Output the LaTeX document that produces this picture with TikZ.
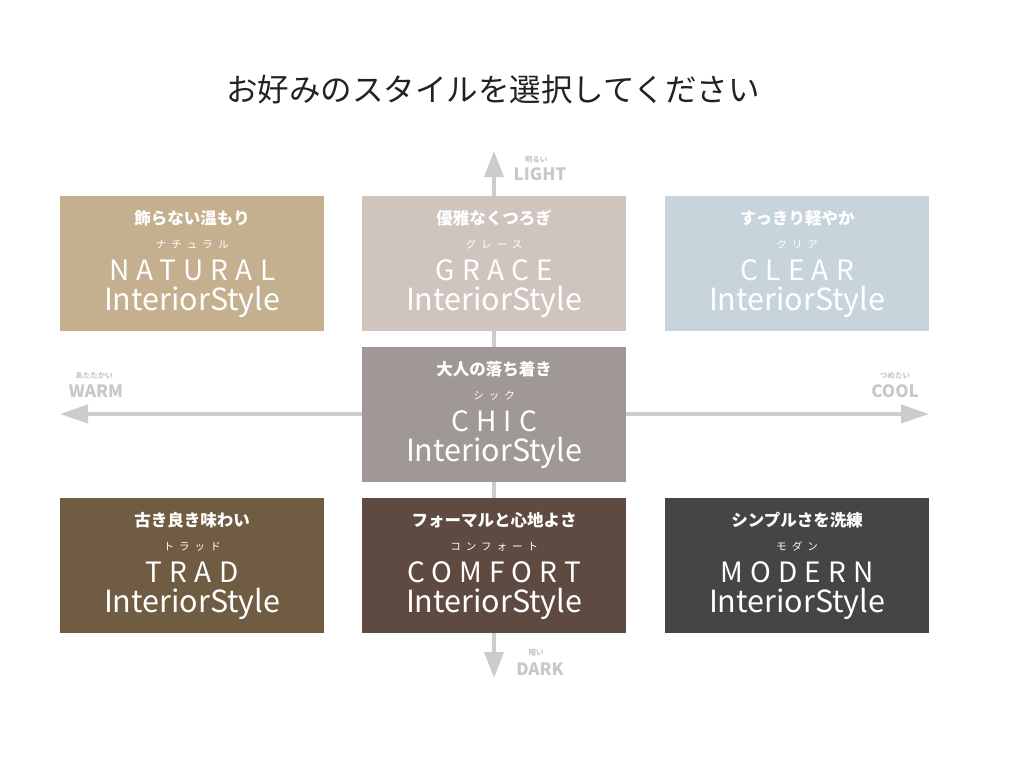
\documentclass[tikz,border=0pt]{standalone}
\usepackage{fontspec}
\setmainfont{Noto Sans CJK JP}
\newfontfamily\enfont[LetterSpace=26]{Noto Sans CJK JP}
\newfontfamily\kanafont[LetterSpace=48]{Noto Sans CJK JP}
\usetikzlibrary{calc,arrows.meta}
\definecolor{cnatural}{RGB}{196,176,142}
\definecolor{cgrace}{RGB}{208,196,191}
\definecolor{cclear}{RGB}{200,212,220}
\definecolor{cchic}{RGB}{160,152,148}
\definecolor{ctrad}{RGB}{111,92,66}
\definecolor{ccomfort}{RGB}{94,74,64}
\definecolor{cmodern}{RGB}{68,69,71}
\definecolor{caxis}{RGB}{204,204,204}
\definecolor{clabel}{RGB}{200,200,200}
\definecolor{ctitle}{RGB}{34,34,34}
\newcommand\stylebox[7]{%
  \node[sbox=#4] (#1) at (#2,#3) {};
  \node[jp] (#1-jp) at ($(#1.north)+(0,28)$) {#5};
  \node[kana] (#1-kana) at ($(#1.north)+(0,52)$) {#6};
  \node[en] (#1-en) at ($(#1.north)+(0,84)$) {#7};
  \node[isty] (#1-is) at ($(#1.north)+(0,114)$) {InteriorStyle};
}
\begin{document}
\begin{tikzpicture}[x=1pt,y=-1pt,
  sbox/.style={fill=#1, draw=none, minimum width=264pt, minimum height=135pt, inner sep=0pt, anchor=north west},
  jp/.style={anchor=base, inner sep=0pt, text=white, font=\bfseries\fontsize{16.5}{18}\selectfont},
  kana/.style={anchor=base, inner sep=0pt, text=white, font=\kanafont\fontsize{10.5}{12}\selectfont},
  en/.style={anchor=base, inner sep=0pt, text=white, font=\enfont\fontsize{28}{30}\selectfont},
  isty/.style={anchor=base, inner sep=0pt, text=white, font=\fontsize{30.5}{32}\selectfont},
  axis/.style={draw=caxis, line width=4pt},
  biglabel/.style={anchor=base, inner sep=0pt, text=clabel, font=\bfseries\fontsize{17}{19}\selectfont},
  smalllabel/.style={anchor=base, inner sep=0pt, text=clabel, font=\bfseries\fontsize{7.5}{9}\selectfont},
]
\useasboundingbox (0,0) rectangle (1024,768);
\node[anchor=base, inner sep=0pt, text=ctitle, font=\fontsize{31.5}{34}\selectfont] (title) at (493,101) {お好みのスタイルを選択してください};
% axes
\coordinate (top) at (494,151);
\coordinate (bot) at (494,678);
\coordinate (lft) at (60,414);
\coordinate (rgt) at (929,414);
\draw[axis, {Triangle[length=26pt,width=19pt]}-{Triangle[length=26pt,width=19pt]}] (bot) -- (top);
\draw[axis, {Triangle[length=28pt,width=18pt]}-{Triangle[length=28pt,width=18pt]}] (lft) -- (rgt);
% axis labels
\node[biglabel] (light) at (540,180) {LIGHT};
\node[smalllabel] (lightjp) at (536,162) {明るい};
\node[biglabel] (dark) at (540,675) {DARK};
\node[smalllabel] (darkjp) at (536,655) {暗い};
\node[biglabel] (warm) at (96,397) {WARM};
\node[smalllabel] (warmjp) at (94,378) {あたたかい};
\node[biglabel] (cool) at (895,397) {COOL};
\node[smalllabel] (cooljp) at (895,378) {つめたい};
% boxes
\stylebox{natural}{60}{196}{cnatural}{飾らない温もり}{ナチュラル}{NATURAL}
\stylebox{grace}{362}{196}{cgrace}{優雅なくつろぎ}{グレース}{GRACE}
\stylebox{clear}{665}{196}{cclear}{すっきり軽やか}{クリア}{CLEAR}
\stylebox{chic}{362}{347}{cchic}{大人の落ち着き}{シック}{CHIC}
\stylebox{trad}{60}{498}{ctrad}{古き良き味わい}{トラッド}{TRAD}
\stylebox{comfort}{362}{498}{ccomfort}{フォーマルと心地よさ}{コンフォート}{COMFORT}
\stylebox{modern}{665}{498}{cmodern}{シンプルさを洗練}{モダン}{MODERN}
\end{tikzpicture}
\end{document}
